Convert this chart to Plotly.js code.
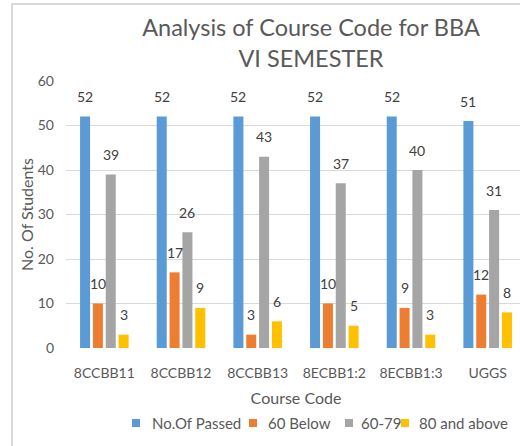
<!DOCTYPE html>
<html>
<head>
<meta charset="utf-8">
<script src="https://cdn.plot.ly/plotly-3.0.1.min.js"></script>
<style>
  html, body { margin: 0; padding: 0; background: #ffffff; overflow: hidden; }
  #wrap { position: relative; width: 520px; height: 446px; overflow: hidden; }
  #frame { position: absolute; left: 11px; top: 3px; width: 600px; height: 600px; border: 2px solid #d9d9d9; }
  #chart { position: absolute; left: 0; top: 0; width: 526px; height: 446px; }
</style>
</head>
<body>
<div id="wrap">
  <div id="frame"></div>
  <div id="chart"></div>
</div>
<script>
// ---- data ----
const categories = ["8CCBB11", "8CCBB12", "8CCBB13", "8ECBB1:2", "8ECBB1:3", "UGGS"];
const seriesNames = ["No.Of Passed", "60 Below", "60-79", "80 and above"];
const passed = [52, 52, 52, 52, 52, 51];
const below60 = [10, 17, 3, 10, 9, 12];
const range6079 = [39, 26, 43, 37, 40, 31];
const above80 = [3, 9, 6, 5, 3, 8];
const titleText = "Analysis of Course Code for BBA<br>VI SEMESTER";
const xTitle = "Course Code";
const yTitle = "No. Of Students";

// ---- styling ----
const colors = ["#5B9BD5", "#ED7D31", "#A5A5A5", "#FFC000"];
const FONT = "Lato, 'Open Sans', sans-serif";
const TXT = "#595959";
const bargap = 0.33, bargroupgap = 0.22;
const W = 526, H = 446;
const margin = { l: 66, r: 0, t: 81, b: 98 };
const plotW = W - margin.l - margin.r;
const plotH = H - margin.t - margin.b;
const px2x = p => (p - margin.l) / plotW;          // page px -> paper x
const py2y = p => (H - margin.b - p) / plotH;       // page px -> paper y

const allSeries = [passed, below60, range6079, above80];
const traces = allSeries.map((vals, i) => ({
  type: "bar",
  name: seriesNames[i],
  x: categories,
  y: vals,
  marker: { color: colors[i] },
  hoverinfo: "skip"
}));

// data labels (sit a little above each bar)
const catW = plotW / categories.length;
const slot = catW * (1 - bargap) / allSeries.length;
const annotations = [];
allSeries.forEach((vals, i) => {
  vals.forEach((v, j) => {
    annotations.push({
      x: categories[j], y: v, xref: "x", yref: "y",
      text: String(v), showarrow: false,
      xshift: (i - (allSeries.length - 1) / 2) * slot,
      yshift: 20,
      font: { family: FONT, size: 14, color: "#404040" }
    });
  });
});

// legend (Excel-style compact legend row)
const legendSquareLeft = [132, 249, 345, 401];
const legendTextLeft = [150, 266, 359, 417];
const legendMidY = 423;
const shapes = [];
seriesNames.forEach((name, i) => {
  shapes.push({
    type: "rect", xref: "paper", yref: "paper",
    x0: px2x(legendSquareLeft[i]), x1: px2x(legendSquareLeft[i] + 8),
    y0: py2y(legendMidY + 4), y1: py2y(legendMidY - 4),
    fillcolor: colors[i], line: { width: 0 }
  });
  annotations.push({
    xref: "paper", yref: "paper",
    x: px2x(legendTextLeft[i]), y: py2y(legendMidY),
    xanchor: "left", yanchor: "middle",
    text: name, showarrow: false,
    font: { family: FONT, size: 15, color: TXT }
  });
});

const layout = {
  width: W, height: H,
  margin: margin,
  paper_bgcolor: "rgba(0,0,0,0)",
  plot_bgcolor: "rgba(0,0,0,0)",
  font: { family: FONT, color: TXT, size: 14 },
  title: {
    text: titleText,
    font: { family: FONT, size: 23.5, color: TXT },
    x: px2x(311), xref: "paper", xanchor: "center",
    y: 1 - 36 / H, yref: "container", yanchor: "top"
  },
  barmode: "group",
  bargap: bargap,
  bargroupgap: bargroupgap,
  xaxis: {
    type: "category",
    showgrid: false,
    showline: false,
    zeroline: false,
    ticks: "",
    ticklabelstandoff: 15,
    tickfont: { family: FONT, size: 14, color: TXT },
    title: { text: xTitle, font: { family: FONT, size: 16, color: TXT }, standoff: 12 }
  },
  yaxis: {
    range: [0, 60],
    dtick: 10,
    showgrid: true,
    gridcolor: "#d9d9d9",
    gridwidth: 1,
    zeroline: false,
    showline: false,
    ticks: "",
    ticklabelstandoff: 11,
    tickfont: { family: FONT, size: 14, color: TXT },
    title: { text: yTitle, font: { family: FONT, size: 16, color: TXT }, standoff: 0 }
  },
  showlegend: false,
  shapes: shapes,
  annotations: annotations
};

Plotly.newPlot("chart", traces, layout, { displayModeBar: false, staticPlot: true });
</script>
</body>
</html>
